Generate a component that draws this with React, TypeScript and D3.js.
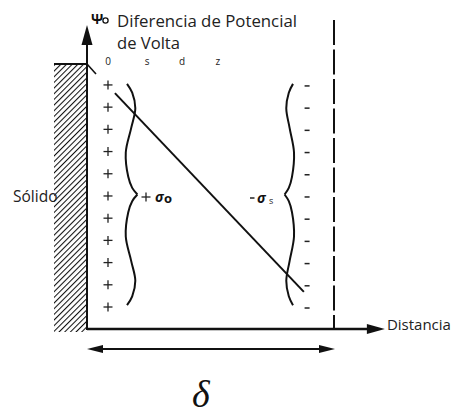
import React from 'react';
import * as d3 from 'd3';

// distance (0 = surface, 1 = delta) and potential (psi, 0..1)
const planeLabels = ['0', 's', 'd', 'z'];
const planeDistance = [0.085, 0.243, 0.385, 0.53];
const chargeRows = [0, 1, 2, 3, 4, 5, 6, 7, 8, 9, 10];
const chargePsiRange = [0.921, 0.083];
const positiveDistance = 0.085;
const negativeDistance = 0.891;
const potentialDistance = [0.113, 0.878];
const potentialPsi = [0.89, 0.14];
const braceProfile = [[0, 0], [0.04, 0.5], [0.11, 0.8], [0.2, 0.4], [0.31, -0.12], [0.42, 0.12], [0.47, 0.5], [0.5, 1]];
const leftBrace = { base: 0.162, tip: 0.204, top: 0.925, bottom: 0.09 };
const rightBrace = { base: 0.834, tip: 0.8, top: 0.925, bottom: 0.09 };

const width = 459;
const height = 416;
const font = "'Open Sans', 'Noto Sans', sans-serif";

const App = () => {
  const x = d3.scaleLinear().domain([0, 1]).range([87, 334]);
  const y = d3.scaleLinear().domain([0, 1]).range([329, 64]);
  const rowY = d3.scalePoint<number>().domain(chargeRows).range(chargePsiRange.map(y));

  const line = d3.line<number[]>().x(d => d[0]).y(d => d[1]).curve(d3.curveCatmullRom);
  const bracePaths = (b) => {
    const top = braceProfile.map(([t, u]) => [x(b.base + u * (b.tip - b.base)), y(b.top + t * (b.bottom - b.top))]);
    const bottom = braceProfile.map(([t, u]) => [x(b.base + u * (b.tip - b.base)), y(b.bottom - t * (b.bottom - b.top))]);
    return [line(top), line(bottom)];
  };

  const x0 = x(0);
  const yAxisTop = y(1.147);
  const xAxisEnd = x(1.206);
  const y0 = y(0);

  return (
    <svg width={width} height={height} style={{ position: 'absolute', left: 0, top: 0, background: '#fff' }}
      fontFamily={font}>
      <defs>
        <pattern id="hatch" patternUnits="userSpaceOnUse" width="4" height="4" patternTransform="rotate(45)">
          <line x1="0" y1="0" x2="0" y2="4" stroke="#111" strokeWidth="2.1" />
        </pattern>
      </defs>

      {/* solid */}
      <rect x={54} y={y(1)} width={x0 - 54} height={y0 - y(1) + 3} fill="url(#hatch)" />
      <line x1={54} x2={x0} y1={y(1)} y2={y(1)} stroke="#111" strokeWidth="2" />
      <line x1={x0} x2={x0 + 9} y1={y(1)} y2={y(1) + 10} stroke="#111" strokeWidth="1.6" />
      <text x={13} y={202} fontSize="15.5" fill="#222">Sólido</text>

      {/* axes */}
      <line x1={x0} x2={x0} y1={y0 + 1} y2={yAxisTop + 15} stroke="#111" strokeWidth="2" />
      <path d={`M${x0},${yAxisTop}L${x0 + 5.5},${yAxisTop + 20}L${x0 - 5.5},${yAxisTop + 20}Z`} fill="#111" />
      <line x1={x0} x2={xAxisEnd - 12} y1={y0} y2={y0} stroke="#111" strokeWidth="2.4" />
      <path d={`M${xAxisEnd},${y0}L${xAxisEnd - 18},${y0 - 5}L${xAxisEnd - 18},${y0 + 5}Z`} fill="#111" />
      <text x={xAxisEnd + 2} y={y0 + 1} fontSize="15" fill="#222">Distancia</text>

      {/* title */}
      <text x={91} y={24} fontSize="14" fontWeight="bold" fill="#111">Ψ</text>
      <circle cx={105.5} cy={20.5} r={2.6} fill="none" stroke="#111" strokeWidth="1.3" />
      <text x={117} y={26.5} fontSize="17" fill="#222" textLength={180} lengthAdjust="spacingAndGlyphs">Diferencia de Potencial</text>
      <text x={117} y={49} fontSize="17" fill="#222" textLength={63} lengthAdjust="spacingAndGlyphs">de Volta</text>

      {/* plane labels */}
      {planeLabels.map((l, i) => (
        <text key={l} x={x(planeDistance[i])} y={65} fontSize="10" textAnchor="middle" fill="#222">{l}</text>
      ))}

      {/* charges */}
      {chargeRows.map(r => {
        const cy = rowY(r);
        const px = x(positiveDistance);
        const nx = x(negativeDistance);
        return (
          <g key={r} stroke="#222" strokeWidth="1.3">
            <line x1={px - 4.5} x2={px + 4.5} y1={cy} y2={cy} />
            <line x1={px} x2={px} y1={cy - 4.5} y2={cy + 4.5} />
            <line x1={nx - 2.5} x2={nx + 2.5} y1={cy + 1} y2={cy + 1} strokeWidth="1.5" />
          </g>
        );
      })}

      {/* dashed plane */}
      <line x1={x(1)} x2={x(1)} y1={y(1.166)} y2={y0} stroke="#111" strokeWidth="2" strokeDasharray="25 4.5" />

      {/* potential line */}
      <line x1={x(potentialDistance[0])} y1={y(potentialPsi[0])} x2={x(potentialDistance[1])} y2={y(potentialPsi[1])}
        stroke="#111" strokeWidth="2" />

      {/* braces */}
      {[leftBrace, rightBrace].map((b, i) => bracePaths(b).map((d, j) => (
        <path key={`${i}-${j}`} d={d} fill="none" stroke="#111" strokeWidth="2" />
      )))}
      <g stroke="#222" strokeWidth="1.3">
        <line x1={141.5} x2={150.5} y1={197} y2={197} />
        <line x1={146} x2={146} y1={192.5} y2={201.5} />
        <line x1={250} x2={254.5} y1={198} y2={198} strokeWidth="1.5" />
      </g>
      <text x={155} y={202} fontSize="14" fontWeight="bold" fontStyle="italic" fill="#111">σ</text>
      <text x={164} y={203} fontSize="13" fontWeight="bold" fill="#111">o</text>
      <text x={257} y={203} fontSize="14" fontWeight="bold" fontStyle="italic" fill="#111">σ</text>
      <text x={269} y={204} fontSize="9" fill="#222">s</text>

      {/* delta span */}
      <line x1={x0 + 10} x2={x(1) - 10} y1={349} y2={349} stroke="#111" strokeWidth="2" />
      <path d={`M${x0},349L${x0 + 16},345L${x0 + 16},353Z`} fill="#111" />
      <path d={`M${x(1) + 1},349L${x(1) - 15},345L${x(1) - 15},353Z`} fill="#111" />
      <text x={192} y={407} fontSize="38" fontStyle="italic" fontFamily="'Liberation Serif', serif" fill="#111">δ</text>
    </svg>
  );
};

export default App;
